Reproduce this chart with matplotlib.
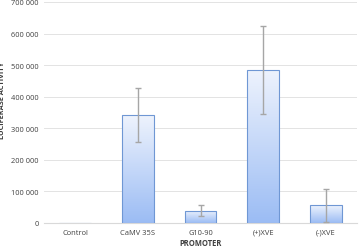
import matplotlib
matplotlib.use("Agg")
import matplotlib.pyplot as plt
import numpy as np
from matplotlib.colors import LinearSegmentedColormap

categories = ["Control", "CaMV 35S", "G10-90", "(+)XVE", "(-)XVE"]
values = [1500, 342000, 39000, 485000, 56000]
errors = [0, 85000, 18000, 139000, 52000]
yticks = [0, 100000, 200000, 300000, 400000, 500000, 600000, 700000]
ytick_labels = ["0", "100 000", "200 000", "300 000", "400 000", "500 000", "600 000", "700 000"]

plt.rcParams['font.family'] = ['Open Sans', 'DejaVu Sans']
fig = plt.figure(figsize=(3.59, 2.51), dpi=100)
ax = fig.add_axes([44/359, 27/251, 313/359, 221/251])

x = np.arange(len(categories))
bars = ax.bar(x, values, width=0.51, facecolor='none', edgecolor='#6f97d4', linewidth=0.8, zorder=3)
cmap = LinearSegmentedColormap.from_list('g', ['#9bbcf4', '#eef3fd'])
grad = np.linspace(0, 1, 256).reshape(-1, 1)
for b in bars:
    x0, y0 = b.get_x(), b.get_y()
    w, h = b.get_width(), b.get_height()
    im = ax.imshow(grad, cmap=cmap, aspect='auto', origin='lower',
                   extent=[x0, x0 + w, y0, y0 + h], zorder=2)
    im.set_clip_path(b)
ax.errorbar(x[1:], values[1:], yerr=errors[1:], fmt='none', ecolor='#a6a6a6',
            elinewidth=1.0, capsize=2.0, capthick=1.0, zorder=4)

ax.set_xlim(-0.5, len(categories) - 0.5)
ax.set_ylim(0, 700000)
ax.set_yticks(yticks)
ax.set_yticklabels(ytick_labels)
ax.set_xticks(x)
ax.set_xticklabels(categories)
ax.tick_params(axis='both', length=0, labelsize=5.4, colors='#404040', pad=4)
ax.grid(axis='y', color='#e3e3e3', linewidth=0.7, zorder=0)
for s in ['top', 'right', 'left']:
    ax.spines[s].set_visible(False)
ax.spines['bottom'].set_color('#d9d9d9')
ax.spines['bottom'].set_linewidth(0.8)
ax.set_xlabel("PROMOTER", fontsize=5.5, fontweight='bold', color='#404040', labelpad=2)
ax.set_ylabel("LUCIFERASE ACTIVITY", fontsize=5.3, fontweight='bold', color='#404040')
ax.yaxis.set_label_coords(-0.122, 0.56)
fig.savefig("out.png", dpi=100)
